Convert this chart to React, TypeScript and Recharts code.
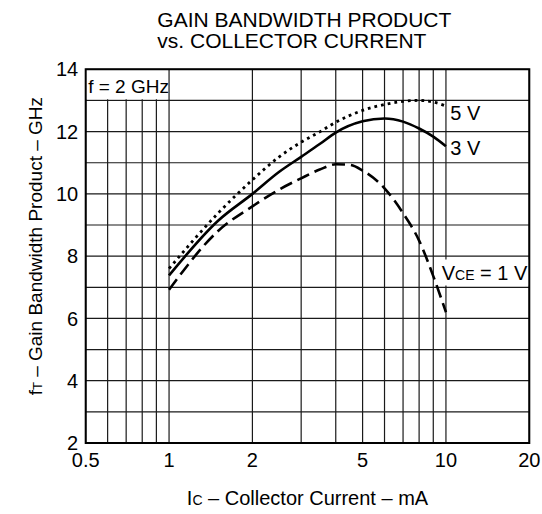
import React from 'react';
import { LineChart, Line, XAxis, YAxis, CartesianGrid, ReferenceArea, ReferenceDot, Label } from 'recharts';

const FONT = '"Liberation Sans", Arial, Helvetica, sans-serif';

// Axis grid / tick values
const xGrid = [0.5, 0.6, 0.7, 0.8, 0.9, 1, 2, 3, 4, 5, 6, 7, 8, 9, 10, 20];
const xLabels = [0.5, 1, 2, 5, 10, 20];
const yGrid = [2, 3, 4, 5, 6, 7, 8, 9, 10, 11, 12, 13, 14];
const yLabels = [2, 4, 6, 8, 10, 12, 14];

// VCE = 5 V (dotted)
const ic5V = [1, 1.5, 2, 2.5, 3, 3.5, 4, 5, 6, 7, 8, 9, 10];
const ft5V = [7.6, 9.37, 10.45, 11.19, 11.66, 11.99, 12.3, 12.68, 12.87, 12.97, 13.0, 12.95, 12.82];

// VCE = 3 V (solid)
const ic3V = [1, 1.5, 2, 2.5, 3, 3.5, 4, 5, 6, 7, 8, 9, 10];
const ft3V = [7.38, 9.13, 10.0, 10.71, 11.19, 11.6, 11.97, 12.33, 12.42, 12.32, 12.1, 11.84, 11.53];

// VCE = 1 V (dashed)
const ic1V = [1, 1.5, 2, 2.5, 3, 3.5, 4, 4.5, 5, 6, 7, 8, 9, 10];
const ft1V = [6.92, 8.8, 9.6, 10.14, 10.5, 10.78, 10.95, 10.93, 10.75, 10.18, 9.38, 8.5, 7.36, 6.2];

const toData = (xs: number[], ys: number[]) => xs.map((x, i) => ({ ic: x, ft: ys[i] }));
const d5 = toData(ic5V, ft5V);
const d3 = toData(ic3V, ft3V);
const d1 = toData(ic1V, ft1V);

const txt = { fontFamily: FONT, fill: '#000' };

const FreqLabel = (props: any) => {
  const vb = props.viewBox || {};
  return (
    <text x={vb.x + 2.5} y={vb.y + 23.5} fontSize={19} {...txt}>
      f = 2 GHz
    </text>
  );
};

const VceLabel = (props: any) => {
  const vb = props.viewBox || {};
  return (
    <text x={vb.x + 2} y={vb.y + 20.5} fontSize={20} {...txt}>
      V<tspan fontSize={14}>CE</tspan> = 1 V
    </text>
  );
};

const sideLabel = (s: string) => (props: any) => {
  const vb = props.viewBox || {};
  const cx = vb.x + (vb.width || 0) / 2;
  const cy = vb.y + (vb.height || 0) / 2;
  return (
    <text x={cx + 4.3} y={cy + 7.5} fontSize={20} {...txt}>
      {s}
    </text>
  );
};

const XTitle = (props: any) => {
  const vb = props.viewBox || {};
  return (
    <text x={vb.x + vb.width / 2} y={vb.y + 62.3} fontSize={20} textAnchor="middle" {...txt}>
      I<tspan fontSize={14}>C</tspan> – Collector Current – mA
    </text>
  );
};

const YTitle = (props: any) => {
  const vb = props.viewBox || {};
  const x = 41.7;
  const y = vb.y + vb.height / 2 - 10;
  return (
    <text x={x} y={y} fontSize={19} textAnchor="middle" transform={`rotate(-90, ${x}, ${y})`} {...txt}>
      f<tspan fontSize={13}>T</tspan> – Gain Bandwidth Product – GHz
    </text>
  );
};

export default function App() {
  return (
    <div style={{ position: 'absolute', left: 0, top: 0, width: 542, height: 514, background: '#fff' }}>
      <LineChart width={542} height={514} margin={{ top: 69.3, right: 12.7, bottom: 0, left: 0 }}>
        <CartesianGrid stroke="#1a1a1a" strokeWidth={1.2} />
        <XAxis
          dataKey="ic"
          type="number"
          scale="log"
          domain={[0.5, 20]}
          allowDataOverflow
          ticks={xGrid}
          interval={0}
          tickFormatter={(v: number) => (xLabels.includes(v) ? String(v) : '')}
          tickLine={false}
          axisLine={false}
          tickSize={0}
          tickMargin={9.5}
          height={71}
          tick={{ fontSize: 20, fill: '#000', fontFamily: FONT }}
        >
          <Label content={XTitle} />
        </XAxis>
        <YAxis
          type="number"
          domain={[2, 14]}
          allowDataOverflow
          ticks={yGrid}
          interval={0}
          tickFormatter={(v: number) => (yLabels.includes(v) ? String(v) : '')}
          tickLine={false}
          axisLine={false}
          tickSize={0}
          tickMargin={7.5}
          width={85.7}
          tick={{ fontSize: 20, fill: '#000', fontFamily: FONT }}
        >
          <Label content={YTitle} />
        </YAxis>
        <ReferenceArea x1={0.5} x2={0.985} y1={13.04} y2={14} fill="#fff" fillOpacity={1} stroke="none">
          <Label content={FreqLabel} />
        </ReferenceArea>
        <ReferenceArea x1={9.5} x2={20} y1={7.055} y2={7.89} fill="#fff" fillOpacity={1} stroke="none">
          <Label content={VceLabel} />
        </ReferenceArea>
        <Line data={d5} dataKey="ft" type="monotone" stroke="#000" strokeWidth={2.8} strokeDasharray="2.8 4" dot={false} isAnimationActive={false} />
        <Line data={d3} dataKey="ft" type="monotone" stroke="#000" strokeWidth={2.6} dot={false} isAnimationActive={false} />
        <Line data={d1} dataKey="ft" type="monotone" stroke="#000" strokeWidth={2.6} strokeDasharray="13 6" dot={false} isAnimationActive={false} />
        <ReferenceDot x={10} y={12.6} r={1} fill="none" stroke="none">
          <Label content={sideLabel('5 V')} />
        </ReferenceDot>
        <ReferenceDot x={10} y={11.49} r={1} fill="none" stroke="none">
          <Label content={sideLabel('3 V')} />
        </ReferenceDot>
        <ReferenceArea x1={0.5} x2={20} y1={2} y2={14} fill="none" stroke="#000" strokeWidth={2} />
      </LineChart>
      <svg width={542} height={60} style={{ position: 'absolute', left: 0, top: 0, pointerEvents: 'none' }}>
        <text x={157.3} y={26.7} fontSize={21} {...txt}>GAIN BANDWIDTH PRODUCT</text>
        <text x={157.3} y={47.7} fontSize={21} {...txt}>vs. COLLECTOR CURRENT</text>
      </svg>
    </div>
  );
}
